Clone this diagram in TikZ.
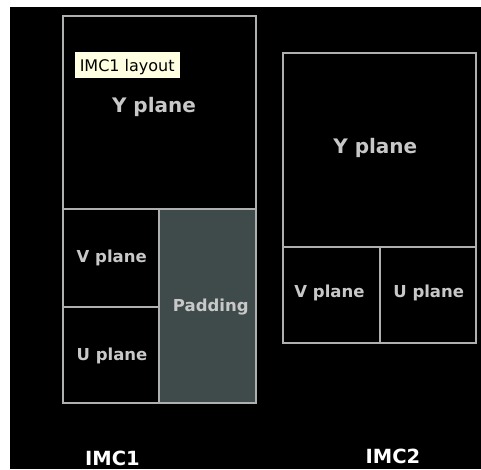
\documentclass[tikz,border=0pt]{standalone}
\usepackage{fontspec}
\setmainfont{DejaVu Sans}
\definecolor{linegray}{HTML}{AEB0B0}
\definecolor{txtgray}{HTML}{C8C8C8}
\definecolor{padfill}{HTML}{3F4A4A}
\definecolor{tipfill}{HTML}{FFFFE1}
\begin{document}
\begin{tikzpicture}[x=1pt,y=-1pt,
  plane/.style={draw=linegray,line width=2pt},
  lbl/.style={text=txtgray,font=\bfseries\fontsize{16.5}{18}\selectfont,inner sep=0pt,anchor=base},
  biglbl/.style={text=txtgray,font=\bfseries\fontsize{20}{22}\selectfont,inner sep=0pt,anchor=base},
  imclbl/.style={text=white,font=\bfseries\fontsize{19.5}{21}\selectfont,inner sep=0pt,anchor=base}]
\useasboundingbox (0,0) rectangle (481,469);
\fill[white] (0,0) rectangle (481,469);
\fill[black] (10,7) rectangle (481,469);
% IMC1
\coordinate (a1) at (62.5,16);
\coordinate (a2) at (256,209);
\coordinate (a3) at (159,306.5);
\coordinate (a4) at (256,403);
\coordinate (a5) at (62.5,403);
\coordinate (a6) at (62.5,209);
\coordinate (a7) at (159,209);
\coordinate (a8) at (62.5,306.5);
\fill[padfill] (a7) rectangle (a4);
\draw[plane] (a1) rectangle (a2);
\draw[plane] (a6) rectangle (a3);
\draw[plane] (a8) rectangle (a7 |- a5);
\draw[plane] (a7) rectangle (a4);
\node[biglbl] (y1) at (154,112.7) {Y plane};
\node[lbl] (v1) at (111.7,262.7) {V plane};
\node[lbl] (u1) at (112,360) {U plane};
\node[lbl] (p1) at (210.8,311) {Padding};
\node[fill=tipfill,draw=tipfill,anchor=north west,minimum width=104pt,minimum height=25pt,inner sep=0pt] (tip) at (75.3,52.3) {};
\node[text=black,font=\fontsize{16}{18}\selectfont,inner sep=0pt,anchor=base] (tiptxt) at (127.2,71.7) {IMC1 layout};
% IMC2
\coordinate (b1) at (283,53);
\coordinate (b2) at (476,247);
\coordinate (b3) at (380,343);
\coordinate (b4) at (476,343);
\coordinate (b5) at (283,247);
\coordinate (b6) at (380,247);
\draw[plane] (b1) rectangle (b2);
\draw[plane] (b5) rectangle (b3);
\draw[plane] (b6) rectangle (b4);
\node[biglbl] (y2) at (375.3,153.3) {Y plane};
\node[lbl] (v2) at (329.5,297.3) {V plane};
\node[lbl] (u2) at (428.7,297.3) {U plane};
% captions
\node[imclbl] (c1) at (112.5,465) {IMC1};
\node[imclbl] (c2) at (393,463.3) {IMC2};
\end{tikzpicture}
\end{document}
